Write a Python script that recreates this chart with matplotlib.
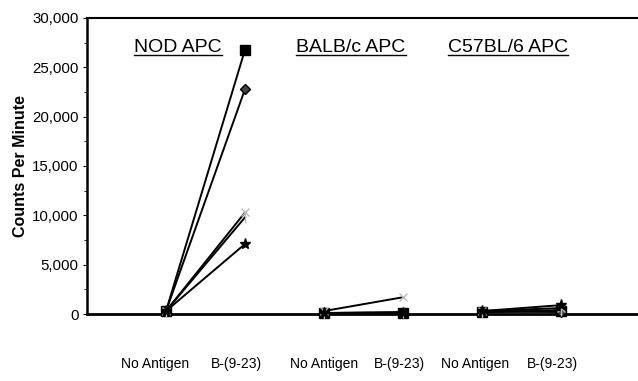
import matplotlib
matplotlib.use("Agg")
import matplotlib.pyplot as plt
from matplotlib.ticker import MultipleLocator, FuncFormatter
from matplotlib.lines import Line2D

plt.rcParams['font.family'] = ['Liberation Sans', 'DejaVu Sans']

# Data
groups = ["NOD APC", "BALB/c APC", "C57BL/6 APC"]
tick_labels = ["No Antigen", "B-(9-23)"] * 3
# each responder: values at 6 x positions (No Ag / B(9-23) per APC group)
s_square = [300, 26800, 100, 100, 200, 300]
s_diamond = [300, 22800, 100, 150, 250, 200]
s_light1 = [300, 10300, 300, 1700, 300, 600]
s_light2 = [300, 9800, 100, 200, 200, 400]
s_star = [300, 7100, 100, 100, 300, 900]
series = [s_square, s_diamond, s_light1, s_light2, s_star]
styles = [
    dict(marker='s', mfc='black', mec='black', ms=7),
    dict(marker='D', mfc='#444444', mec='black', ms=5),
    dict(marker='x', mfc='#bbbbbb', mec='#bbbbbb', ms=6),
    dict(marker='|', mfc='#bbbbbb', mec='#bbbbbb', ms=8),
    dict(marker='*', mfc='black', mec='black', ms=8),
]

fig = plt.figure(figsize=(6.38, 3.81), dpi=100)
ax = fig.add_axes([87/638, 67/381, 550/638, 296/381])

xs = list(range(6))
for vals, st in zip(series, styles):
    for g in range(3):
        px = xs[2*g:2*g+2]
        py = vals[2*g:2*g+2]
        ax.plot(px, py, color='black', lw=1.4, clip_on=False, zorder=3, **st)

ax.set_xlim(-1.0, 5.96)
ax.set_ylim(0, 30000)
ax.yaxis.set_major_locator(MultipleLocator(5000))
ax.yaxis.set_minor_locator(MultipleLocator(2500))
ax.yaxis.set_major_formatter(FuncFormatter(lambda v, p: f"{int(v):,}"))
ax.tick_params(axis='y', which='major', direction='out', length=3, width=0.8,
               labelsize=10.8, pad=3)
ax.tick_params(axis='y', which='minor', direction='out', length=2, width=0.6)
ax.set_xticks([])
ax.spines['right'].set_visible(False)
ax.spines['left'].set_linewidth(1.8)
ax.spines['bottom'].set_linewidth(2.0)
ax.spines['top'].set_linewidth(1.5)
ax.set_ylabel("Counts Per Minute", fontsize=11.5, fontweight='bold', labelpad=3)

label_shift = [-0.14, -0.11, 0.0, -0.04, -0.09, -0.11]
for x, dx, lab in zip(xs, label_shift, tick_labels):
    ax.text(x + dx, -0.17, lab, transform=ax.get_xaxis_transform(), ha='center',
            va='center', fontsize=10)

title_x = [0.15, 2.34, 4.33]
texts = []
for gx, name in zip(title_x, groups):
    t = ax.text(gx, 0.9, name, transform=ax.get_xaxis_transform(),
                ha='center', va='center', fontsize=14)
    texts.append(t)

fig.canvas.draw()
r = fig.canvas.get_renderer()
inv = fig.transFigure.inverted()
for t in texts:
    bb = t.get_window_extent(renderer=r)
    (x0, y0) = inv.transform((bb.x0, bb.y0 + 1))
    (x1, _) = inv.transform((bb.x1, bb.y0))
    fig.add_artist(Line2D([x0, x1], [y0, y0], transform=fig.transFigure,
                          color='black', lw=1.0))

fig.savefig("out.png", dpi=100)
